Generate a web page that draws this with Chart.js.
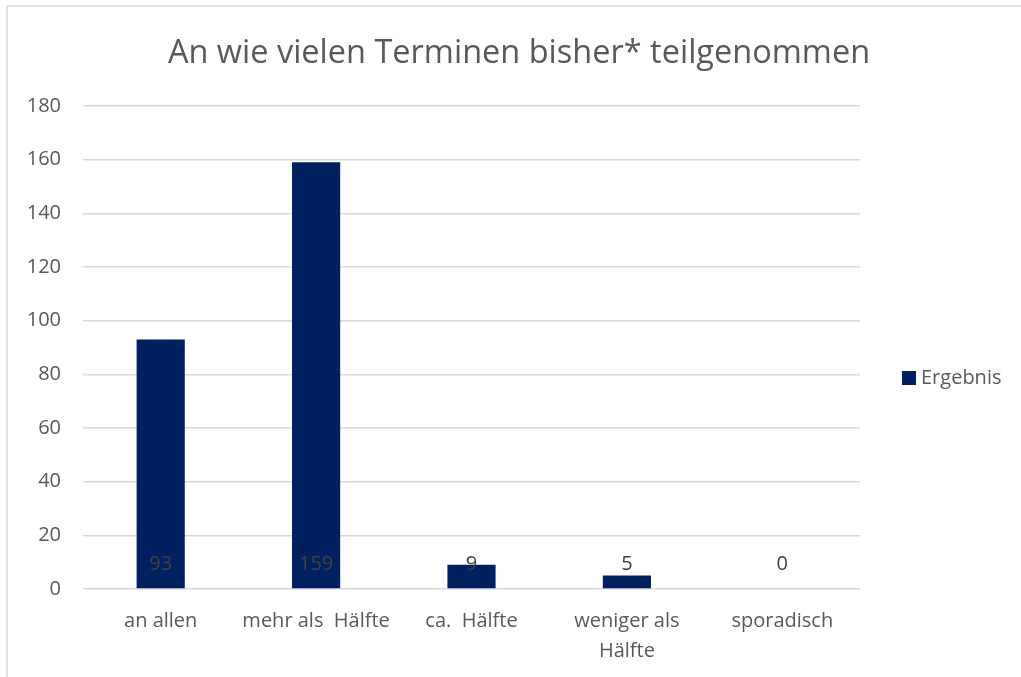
<!DOCTYPE html>
<html>
<head>
<meta charset="utf-8">
<script src="https://cdn.jsdelivr.net/npm/chart.js@4/dist/chart.umd.min.js"></script>
<style>
  html, body { margin: 0; padding: 0; background: #ffffff; }
  #wrap { width: 1021px; height: 677px; }
</style>
</head>
<body>
<div id="wrap"><canvas id="c" width="1021" height="677"></canvas></div>
<script>
const titleText = "An wie vielen Terminen bisher* teilgenommen";
const categories = ["an allen", "mehr als  Hälfte", "ca.  Hälfte", ["weniger als", "Hälfte"], "sporadisch"];
const seriesName = "Ergebnis";
const values = [93, 159, 9, 5, 0];
const yMin = 0, yMax = 180, yStep = 20;

const FONT = "'Open Sans', 'Noto Sans', sans-serif";
const TXT = "#595959";
const BAR = "#002060";

const framePlugin = {
  id: 'frame',
  beforeDraw(chart) {
    const ctx = chart.ctx;
    ctx.save();
    ctx.fillStyle = '#ffffff';
    ctx.fillRect(0, 0, chart.width, chart.height);
    ctx.strokeStyle = '#d9d9d9';
    ctx.lineWidth = 1.5;
    ctx.beginPath();
    ctx.moveTo(7, chart.height + 5);
    ctx.lineTo(7, 6);
    ctx.lineTo(chart.width + 5, 6);
    ctx.stroke();
    ctx.restore();
  }
};

const labelPlugin = {
  id: 'valueLabels',
  afterDatasetsDraw(chart) {
    const ctx = chart.ctx;
    const meta = chart.getDatasetMeta(0);
    const y0 = chart.scales.y.getPixelForValue(0);
    ctx.save();
    ctx.font = "20px " + FONT;
    ctx.fillStyle = '#404040';
    ctx.textAlign = 'center';
    ctx.textBaseline = 'middle';
    meta.data.forEach((bar, i) => {
      ctx.fillText(String(chart.data.datasets[0].data[i]), bar.x, y0 - 25);
    });
    ctx.restore();
  }
};

const legendPlugin = {
  id: 'rightLegend',
  afterDraw(chart) {
    const ctx = chart.ctx;
    const ds = chart.data.datasets[0];
    const cy = 378;
    ctx.save();
    ctx.fillStyle = ds.backgroundColor;
    ctx.fillRect(902, cy - 7, 14, 14);
    ctx.font = "20px " + FONT;
    ctx.fillStyle = TXT;
    ctx.textAlign = 'left';
    ctx.textBaseline = 'middle';
    ctx.fillText(ds.label, 921, cy);
    ctx.restore();
  }
};

new Chart(document.getElementById('c'), {
  type: 'bar',
  data: {
    labels: categories,
    datasets: [{
      label: seriesName,
      data: values,
      backgroundColor: BAR,
      borderWidth: 0,
      categoryPercentage: 0.62,
      barPercentage: 0.5
    }]
  },
  options: {
    responsive: false,
    animation: false,
    devicePixelRatio: 1,
    layout: { padding: { left: 25, right: 8, top: 0, bottom: 0 } },
    plugins: {
      legend: { display: false },
      tooltip: { enabled: false },
      title: {
        display: true,
        text: titleText,
        color: TXT,
        font: { family: FONT, size: 32.5, weight: 'normal', lineHeight: 1.2 },
        padding: { top: 34, bottom: 33 }
      }
    },
    scales: {
      x: {
        grid: { display: false, drawTicks: false },
        border: { display: false },
        ticks: {
          color: TXT,
          font: { family: FONT, size: 20, lineHeight: 1.5 },
          padding: 17,
          maxRotation: 0,
          autoSkip: false
        },
        afterFit(scale) { scale.height = 88; }
      },
      y: {
        min: yMin,
        max: yMax,
        grid: { color: '#d9d9d9', lineWidth: 1.5, drawTicks: false },
        border: { display: false },
        ticks: {
          stepSize: yStep,
          color: TXT,
          font: { family: FONT, size: 20 },
          padding: 22
        },
        afterFit(scale) { scale.width = 58; }
      },
      yRight: {
        position: 'right',
        display: true,
        grid: { display: false, drawTicks: false },
        border: { display: false },
        ticks: { display: false },
        afterFit(scale) { scale.width = 153; }
      }
    }
  },
  plugins: [framePlugin, labelPlugin, legendPlugin]
});
</script>
</body>
</html>
